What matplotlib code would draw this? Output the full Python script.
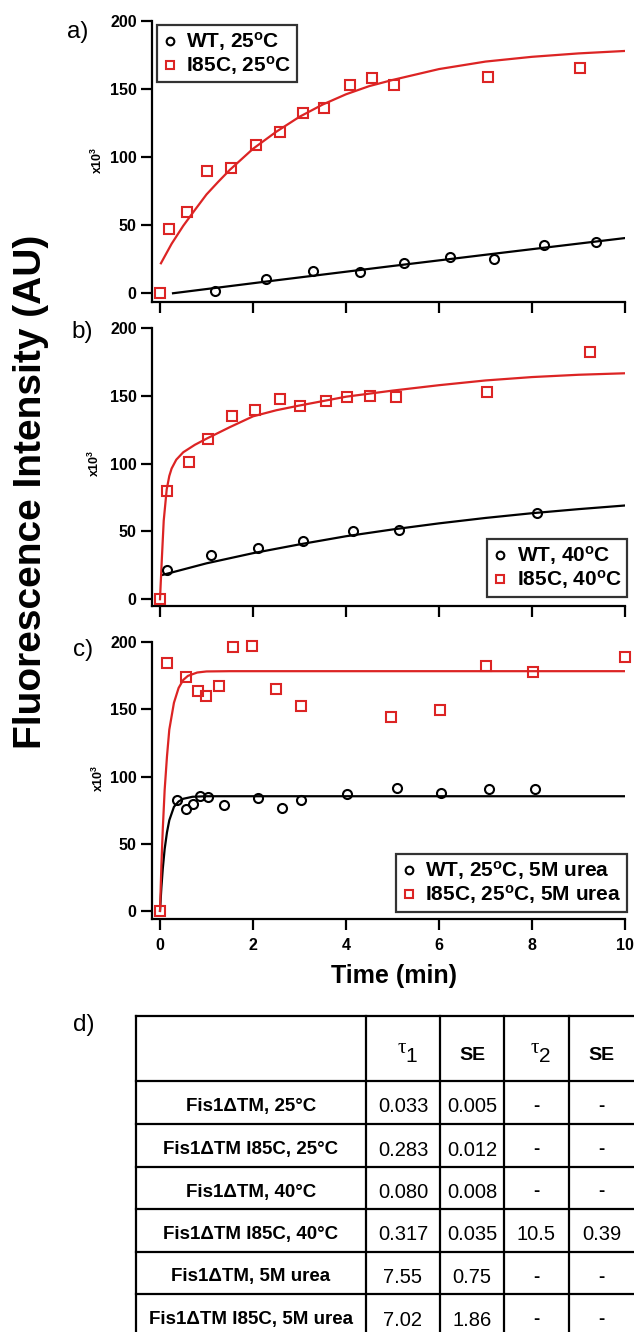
import matplotlib
matplotlib.use('Agg')
import matplotlib.pyplot as plt

plt.rcParams['font.family'] = ['Liberation Sans', 'DejaVu Sans']
plt.rcParams['mathtext.fontset'] = 'custom'
plt.rcParams['mathtext.rm'] = 'Liberation Sans'
plt.rcParams['mathtext.bf'] = 'Liberation Sans:bold'
plt.rcParams['mathtext.it'] = 'Liberation Sans:italic'

RED = '#dc2424'
BLACK = '#000000'

# ---------------- data: panel a ----------------
a_wt_t = [1.18, 2.29, 3.28, 4.31, 5.24, 6.23, 7.19, 8.26, 9.38]
a_wt_y = [1.7, 10.5, 16.4, 15.4, 22.0, 26.7, 25.4, 35.5, 37.4]
a_mut_t = [0, 0.2, 0.58, 1.02, 1.53, 2.06, 2.57, 3.07, 3.52, 4.08, 4.55, 5.04, 7.05, 9.04]
a_mut_y = [0, 47, 59.7, 90, 92, 109, 118, 132, 136, 153, 158, 153, 159, 165.5]
a_wt_fit_t = [0.28, 2.5, 5, 7.5, 10]
a_wt_fit_y = [0, 9.5, 20, 30.3, 40.5]
a_mut_fit_t = [0.02, 0.25, 0.5, 0.75, 1, 1.25, 1.5, 2, 2.5, 3, 3.5, 4, 4.5, 5, 6, 7, 8, 9, 10]
a_mut_fit_y = [22, 36.3, 49.5, 61.1, 72.5, 81.7, 90.5, 106, 118.5, 129.5, 138.5, 146, 152, 156.5,
               164.5, 170, 173.5, 176, 177.8]

# ---------------- data: panel b ----------------
b_wt_t = [0.15, 1.1, 2.11, 3.08, 4.15, 5.13, 8.1]
b_wt_y = [21.4, 32.5, 37.7, 43.3, 50.7, 51.2, 63.5]
b_mut_t = [0, 0.15, 0.62, 1.04, 1.55, 2.05, 2.57, 3.01, 3.57, 4.03, 4.51, 5.07, 7.03, 9.24]
b_mut_y = [0, 79.8, 101.5, 118, 135, 139.4, 147.8, 142.6, 146.6, 149, 149.8, 149, 153, 182.3]
b_wt_fit_t = [0.06, 1, 2, 3, 4, 5, 6, 7, 8, 9, 10]
b_wt_fit_y = [18, 26.5, 34, 40.5, 46.5, 51.5, 56, 60, 63.5, 66.5, 69.2]
b_mut_fit_t = [0, 0.04, 0.08, 0.144, 0.2, 0.25, 0.35, 0.5, 0.75, 1.0, 1.5, 2, 2.5, 3, 4, 5, 6, 7, 8, 9, 10]
b_mut_fit_y = [0, 30, 58, 81, 91, 96.5, 103, 108.5, 114, 118.5, 127, 135, 139.5, 143, 149.5, 154,
               158, 161.5, 164, 165.7, 166.8]

# ---------------- data: panel c ----------------
c_wt_t = [0.37, 0.55, 0.71, 0.86, 1.04, 1.37, 2.1, 2.62, 3.03, 4.03, 5.1, 6.04, 7.07, 8.06]
c_wt_y = [82.9, 75.9, 79.4, 85.6, 85.1, 78.9, 84.4, 76.7, 82.4, 87.1, 91.6, 88.1, 90.6, 91.1]
c_mut_t = [0, 0.16, 0.55, 0.82, 1.0, 1.27, 1.57, 1.97, 2.5, 3.03, 4.97, 6.02, 7.02, 8.03, 10]
c_mut_y = [0, 184.9, 174.2, 163.8, 159.8, 167.2, 196.3, 197, 165, 152.9, 144.2, 149.4, 182.6, 178.2, 188.8]
c_wt_fit_t = [0, 0.03, 0.06, 0.1, 0.15, 0.2, 0.3, 0.4, 0.5, 0.7, 1.0, 10]
c_wt_fit_y = [0, 17.5, 31.5, 46, 58.5, 67.5, 77.5, 81.5, 83.5, 85, 85.4, 85.4]
c_mut_fit_t = [0, 0.03, 0.06, 0.1, 0.15, 0.2, 0.3, 0.4, 0.5, 0.6, 0.8, 1.0, 1.5, 10]
c_mut_fit_y = [0, 34, 61, 90, 115, 135, 155, 166, 172, 175, 177.5, 178.3, 178.5, 178.5]

x_ticks = [0, 2, 4, 6, 8, 10]
y_ticks = [0, 50, 100, 150, 200]

legend_a = ['WT, 25$^{\\mathbf{o}}$C', 'I85C, 25$^{\\mathbf{o}}$C']
legend_b = ['WT, 40$^{\\mathbf{o}}$C', 'I85C, 40$^{\\mathbf{o}}$C']
legend_c = ['WT, 25$^{\\mathbf{o}}$C, 5M urea', 'I85C, 25$^{\\mathbf{o}}$C, 5M urea']

# ---------------- data: table ----------------
row_labels = ['Fis1\u0394TM, 25\u00b0C', 'Fis1\u0394TM I85C, 25\u00b0C', 'Fis1\u0394TM, 40\u00b0C',
              'Fis1\u0394TM I85C, 40\u00b0C', 'Fis1\u0394TM, 5M urea', 'Fis1\u0394TM I85C, 5M urea']
tau1 = ['0.033', '0.283', '0.080', '0.317', '7.55', '7.02']
se1 = ['0.005', '0.012', '0.008', '0.035', '0.75', '1.86']
tau2 = ['-', '-', '-', '10.5', '-', '-']
se2 = ['-', '-', '-', '0.39', '-', '-']

W, H = 634, 1332
fig = plt.figure(figsize=(W / 100, H / 100), dpi=100)


def pix_axes(left, top, right, bottom):
    return fig.add_axes([left / W, 1 - bottom / H, (right - left) / W, (bottom - top) / H])


def style(ax, ylo, show_xlabels):
    ax.set_xlim(-0.172, 10)
    ax.set_ylim(ylo, 200)
    ax.spines['top'].set_visible(False)
    ax.spines['right'].set_visible(False)
    for s in ('left', 'bottom'):
        ax.spines[s].set_linewidth(1.6)
    ax.set_xticks(x_ticks)
    ax.set_yticks(y_ticks)
    ax.tick_params(direction='out', length=8, width=1.6, labelsize=11.5)
    ax.tick_params(axis='y', pad=3)
    ax.tick_params(axis='x', pad=6)
    if not show_xlabels:
        ax.tick_params(axis='x', labelbottom=False)
    for lbl in ax.get_xticklabels() + ax.get_yticklabels():
        lbl.set_fontweight('bold')


def draw(ax, wt_t, wt_y, mut_t, mut_y, wfit_t, wfit_y, mfit_t, mfit_y, labels, loc, anchor):
    ax.plot(wfit_t, wfit_y, color=BLACK, lw=1.6, zorder=2)
    ax.plot(mfit_t, mfit_y, color=RED, lw=1.6, zorder=2)
    h1, = ax.plot(wt_t, wt_y, 'o', ms=6.5, mfc='none', mec=BLACK, mew=1.5, clip_on=False, zorder=3,
                  label=labels[0])
    h2, = ax.plot(mut_t, mut_y, 's', ms=6.5, mfc='none', mec=RED, mew=1.5, clip_on=False, zorder=3,
                  label=labels[1])
    leg = ax.legend(handles=[h1, h2], loc=loc, bbox_to_anchor=anchor, borderaxespad=0,
                    prop={'weight': 'bold', 'size': 15}, frameon=True, fancybox=False,
                    borderpad=0.25, handlelength=0.7, handletextpad=0.45, labelspacing=0.05,
                    markerscale=0.85)
    leg.get_frame().set_edgecolor('black')
    leg.get_frame().set_linewidth(1.6)


ax_a = pix_axes(152, 20.7, 625, 301.7)
style(ax_a, -6.2, False)
draw(ax_a, a_wt_t, a_wt_y, a_mut_t, a_mut_y, a_wt_fit_t, a_wt_fit_y, a_mut_fit_t, a_mut_fit_y,
     legend_a, 'upper left', (0.011, 0.985))

ax_b = pix_axes(152, 328.3, 625, 606)
style(ax_b, -5.0, False)
draw(ax_b, b_wt_t, b_wt_y, b_mut_t, b_mut_y, b_wt_fit_t, b_wt_fit_y, b_mut_fit_t, b_mut_fit_y,
     legend_b, 'lower right', (1.004, 0.034))

ax_c = pix_axes(152, 642.3, 625, 919)
style(ax_c, -6.0, True)
draw(ax_c, c_wt_t, c_wt_y, c_mut_t, c_mut_y, c_wt_fit_t, c_wt_fit_y, c_mut_fit_t, c_mut_fit_y,
     legend_c, 'lower right', (1.004, 0.027))

# ---------------- overlay for figure-level text and the table ----------------
ov = fig.add_axes([0, 0, 1, 1])
ov.set_xlim(0, W)
ov.set_ylim(H, 0)
ov.axis('off')

ov.text(31, 492, 'Fluorescence Intensity (AU)', rotation=90, fontsize=28, fontweight='bold',
        ha='center', va='center')
ov.text(394, 983, 'Time (min)', fontsize=18, fontweight='bold', ha='center', va='baseline')

for lab, x, y in (('a)', 67, 38), ('b)', 71, 338), ('c)', 73, 656), ('d)', 73, 1031)):
    ov.text(x, y, lab, fontsize=17.5, ha='left', va='baseline')

for x, y in ((97, 160), (94, 463), (98, 778)):
    ov.text(x, y, 'x10$^{\\mathbf{3}}$', rotation=90, fontsize=9, fontweight='bold',
            ha='center', va='center')

# table grid
col_x = [136, 366, 440, 504, 569]
row_y = [1016, 1081, 1124, 1166.5, 1209, 1251.5, 1294, 1336.5]
LW = 1.6
for y in row_y:
    ov.plot([col_x[0], W + 5], [y, y], color='black', lw=LW, solid_capstyle='projecting', clip_on=False)
for x in col_x:
    ov.plot([x, x], [row_y[0], H + 5], color='black', lw=LW, solid_capstyle='projecting', clip_on=False)

centers = [251, 403, 472, 536.5, 601.5]

# header
for cx, sub in ((centers[1], '1'), (centers[3], '2')):
    ov.text(cx + 3, 1053, '\u03c4', family='Liberation Serif', fontsize=15, ha='right', va='baseline')
    ov.text(cx + 2, 1062, sub, fontsize=15, ha='left', va='baseline')
for cx in (centers[2], centers[4]):
    ov.text(cx, 1060, 'SE', fontsize=14, fontweight='bold', ha='center', va='baseline')

for i in range(len(row_labels)):
    top = row_y[i + 1]
    ov.text(centers[0], top + 30, row_labels[i], fontsize=13.5, fontweight='bold',
            ha='center', va='baseline')
    for cx, val in zip(centers[1:], (tau1[i], se1[i], tau2[i], se2[i])):
        if val == '-':
            ov.text(cx, top + 30, val, fontsize=13.5, fontweight='bold', ha='center', va='baseline')
        else:
            ov.text(cx, top + 31.5, val, fontsize=14.5, ha='center', va='baseline')

fig.savefig('out.png', dpi=100)
